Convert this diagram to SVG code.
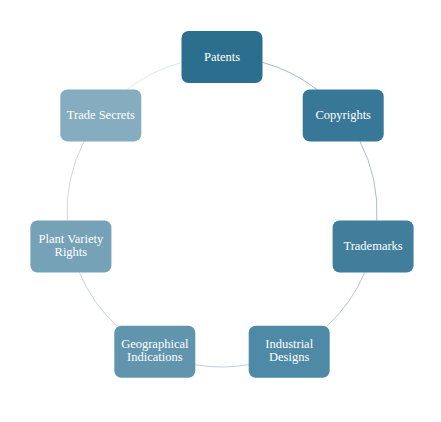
<svg xmlns="http://www.w3.org/2000/svg" width="441" height="422" viewBox="0 0 441 422">
<style>
.n rect{stroke:none}
.n text{font-family:"Liberation Serif","DejaVu Serif",serif;font-size:12.5px;fill:#ffffff;text-anchor:middle}
.c path{fill:none;stroke-width:1}
</style>
<rect width="441" height="422" fill="#ffffff"/>
<g id="connectors" class="c">
<path d="M262.5,62.4 A155,155 0 0 1 316.8,89.4" stroke="#a6bac9"/>
<path d="M360,141.4 A155,155 0 0 1 376.8,220.5" stroke="#a9bdcb"/>
<path d="M364.7,272.5 A155,155 0 0 1 327.3,325.7" stroke="#b3c5d1"/>
<path d="M248.7,364.7 A155,155 0 0 1 195.3,364.7" stroke="#c1cfd8"/>
<path d="M116.7,325.7 A155,155 0 0 1 79.3,272.5" stroke="#c8d4db"/>
<path d="M67.2,220.5 A155,155 0 0 1 84,141.4" stroke="#d0d7dc"/>
<path d="M127.2,89.4 A155,155 0 0 1 181.5,62.4" stroke="#e2e7ea"/>
</g>
<g id="patents" class="n"><rect x="181.5" y="31" width="81" height="52" rx="7" fill="#2c6e8d"/><text x="222" y="60.5">Patents</text></g>
<g id="copyrights" class="n"><rect x="302.7" y="89.4" width="81" height="52" rx="7" fill="#377797"/><text x="343.2" y="118.9">Copyrights</text></g>
<g id="trademarks" class="n"><rect x="332.6" y="220.5" width="81" height="52" rx="7" fill="#407e9c"/><text x="373.1" y="250">Trademarks</text></g>
<g id="industrial-designs" class="n"><rect x="248.7" y="325.7" width="81" height="52" rx="7" fill="#4e89a6"/><text x="289.2" y="348">Industrial</text><text x="289.2" y="361.2">Designs</text></g>
<g id="geographical-indications" class="n"><rect x="114.3" y="325.7" width="81" height="52" rx="7" fill="#6195ae"/><text x="154.8" y="348">Geographical</text><text x="154.8" y="361.2">Indications</text></g>
<g id="plant-variety-rights" class="n"><rect x="30.4" y="220.5" width="81" height="52" rx="7" fill="#76a2b8"/><text x="70.9" y="243">Plant Variety</text><text x="70.9" y="256.2">Rights</text></g>
<g id="trade-secrets" class="n"><rect x="60.3" y="89.4" width="81" height="52" rx="7" fill="#86acc0"/><text x="100.8" y="118.9">Trade Secrets</text></g>
</svg>
